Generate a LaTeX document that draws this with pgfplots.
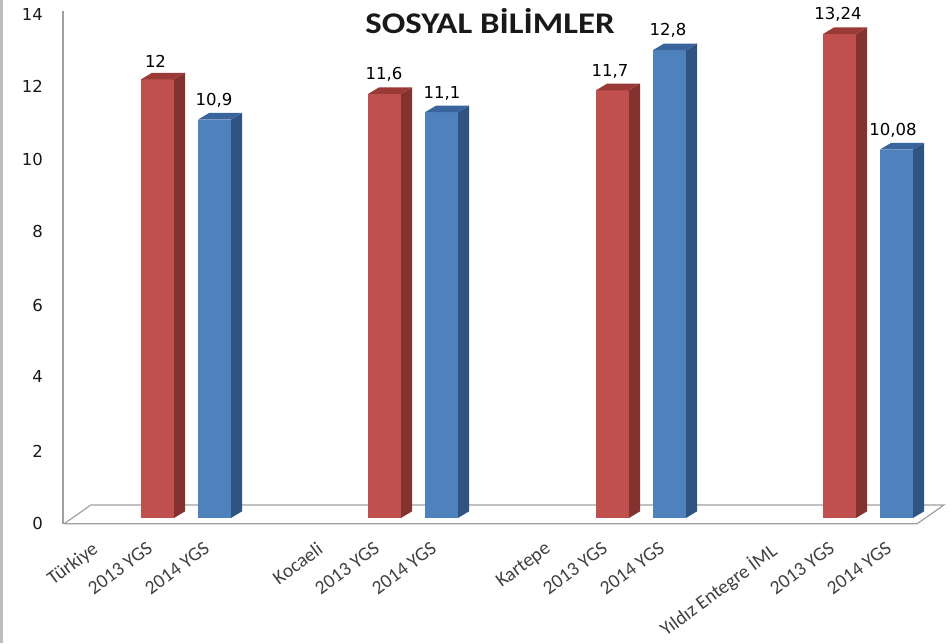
\documentclass[border=0pt]{standalone}
\usepackage{pgfplots}
\pgfplotsset{compat=1.18}
\usepackage{fontspec}
\setmainfont{Carlito}
\newfontfamily\numfont{DejaVu Sans}
\definecolor{rf}{HTML}{C0504D}\definecolor{rs}{HTML}{843230}\definecolor{rt}{HTML}{9A3A37}
\definecolor{bf}{HTML}{4F81BD}\definecolor{bs}{HTML}{2F5482}\definecolor{bt}{HTML}{3A659C}
\definecolor{fl}{HTML}{A0A0A0}
\begin{document}
\begin{tikzpicture}[x=1pt,y=1pt]
\path[use as bounding box] (0,0) rectangle (952,643);
\fill[fl!70] (0,0) rectangle (2.5,643);
\begin{axis}[
  at={(63pt,119.2pt)},anchor=south west,
  scale only axis,width=854pt,height=512.8pt,
  xmin=63,xmax=917,ymin=-0.16,ymax=13.87,
  clip=false,
  axis x line=bottom,axis y line=left,
  axis line style={draw=fl,line width=1.2pt,-},
  major tick length=0pt,
  ytick={-0.16,1.82,3.88,5.82,7.84,9.8,11.82,13.78},
  yticklabels={0,2,4,6,8,10,12,14},
  yticklabel style={font=\numfont\fontsize{16.5}{18}\selectfont,text=black!90,xshift=-20pt,inner sep=0pt,anchor=east},
  xtick={91,146,203,316,373,430,544,601,658,769,828,885},
  xticklabels={Türkiye,2013 YGS,2014 YGS,Kocaeli,2013 YGS,2014 YGS,Kartepe,2013 YGS,2014 YGS,Yıldız Entegre İML,2013 YGS,2014 YGS},
  xticklabel style={font=\fontsize{19.5}{22}\selectfont,text=black!75,rotate=36.5,anchor=north east,inner sep=0pt,xshift=-10.1pt,yshift=-13.7pt},
]
% floor
\addplot[draw=fl,line width=1.2pt] coordinates {(64,-0.16)(91,0.356)(944,0.356)(917,-0.16)(64,-0.16)};
% red 2013, blue 2014: front, side, top
\addplot[fill=rf,draw=none] coordinates {(141,0)(174,0)(174,12)(141,12)} --cycle;
\addplot[fill=rs,draw=none] coordinates {(174,0)(185,0.18)(185,12.18)(174,12)} --cycle;
\addplot[fill=rt,draw=none] coordinates {(141,12)(174,12)(185,12.18)(152,12.18)} --cycle;
\addplot[fill=bf,draw=none] coordinates {(198,0)(231,0)(231,10.9)(198,10.9)} --cycle;
\addplot[fill=bs,draw=none] coordinates {(231,0)(242,0.18)(242,11.08)(231,10.9)} --cycle;
\addplot[fill=bt,draw=none] coordinates {(198,10.9)(231,10.9)(242,11.08)(209,11.08)} --cycle;
\addplot[fill=rf,draw=none] coordinates {(368,0)(401,0)(401,11.6)(368,11.6)} --cycle;
\addplot[fill=rs,draw=none] coordinates {(401,0)(412,0.18)(412,11.78)(401,11.6)} --cycle;
\addplot[fill=rt,draw=none] coordinates {(368,11.6)(401,11.6)(412,11.78)(379,11.78)} --cycle;
\addplot[fill=bf,draw=none] coordinates {(425,0)(458,0)(458,11.1)(425,11.1)} --cycle;
\addplot[fill=bs,draw=none] coordinates {(458,0)(469,0.18)(469,11.28)(458,11.1)} --cycle;
\addplot[fill=bt,draw=none] coordinates {(425,11.1)(458,11.1)(469,11.28)(436,11.28)} --cycle;
\addplot[fill=rf,draw=none] coordinates {(596,0)(629,0)(629,11.7)(596,11.7)} --cycle;
\addplot[fill=rs,draw=none] coordinates {(629,0)(640,0.18)(640,11.88)(629,11.7)} --cycle;
\addplot[fill=rt,draw=none] coordinates {(596,11.7)(629,11.7)(640,11.88)(607,11.88)} --cycle;
\addplot[fill=bf,draw=none] coordinates {(653,0)(686,0)(686,12.8)(653,12.8)} --cycle;
\addplot[fill=bs,draw=none] coordinates {(686,0)(697,0.18)(697,12.98)(686,12.8)} --cycle;
\addplot[fill=bt,draw=none] coordinates {(653,12.8)(686,12.8)(697,12.98)(664,12.98)} --cycle;
\addplot[fill=rf,draw=none] coordinates {(823,0)(856,0)(856,13.24)(823,13.24)} --cycle;
\addplot[fill=rs,draw=none] coordinates {(856,0)(867,0.18)(867,13.42)(856,13.24)} --cycle;
\addplot[fill=rt,draw=none] coordinates {(823,13.24)(856,13.24)(867,13.42)(834,13.42)} --cycle;
\addplot[fill=bf,draw=none] coordinates {(880,0)(913,0)(913,10.08)(880,10.08)} --cycle;
\addplot[fill=bs,draw=none] coordinates {(913,0)(924,0.18)(924,10.26)(913,10.08)} --cycle;
\addplot[fill=bt,draw=none] coordinates {(880,10.08)(913,10.08)(924,10.26)(891,10.26)} --cycle;
% value labels
\addplot[draw=none,mark=none,point meta=explicit symbolic,
  nodes near coords,
  every node near coord/.style={font=\numfont\fontsize{16.5}{18}\selectfont,text=black,anchor=south,inner sep=0pt,yshift=12pt}]
 table[meta=l] {
x y l
155.5 12 12
214 10.9 10,9
384 11.6 11,6
442 11.1 11,1
610 11.7 11,7
668 12.8 12,8
838 13.24 13,24
893 10.08 10,08
};
\node[font=\fontsize{30}{34}\selectfont\bfseries,text=black!90,xscale=1.16] at (axis cs:490,13.6) {SOSYAL BİLİMLER};
\end{axis}
\end{tikzpicture}
\end{document}
